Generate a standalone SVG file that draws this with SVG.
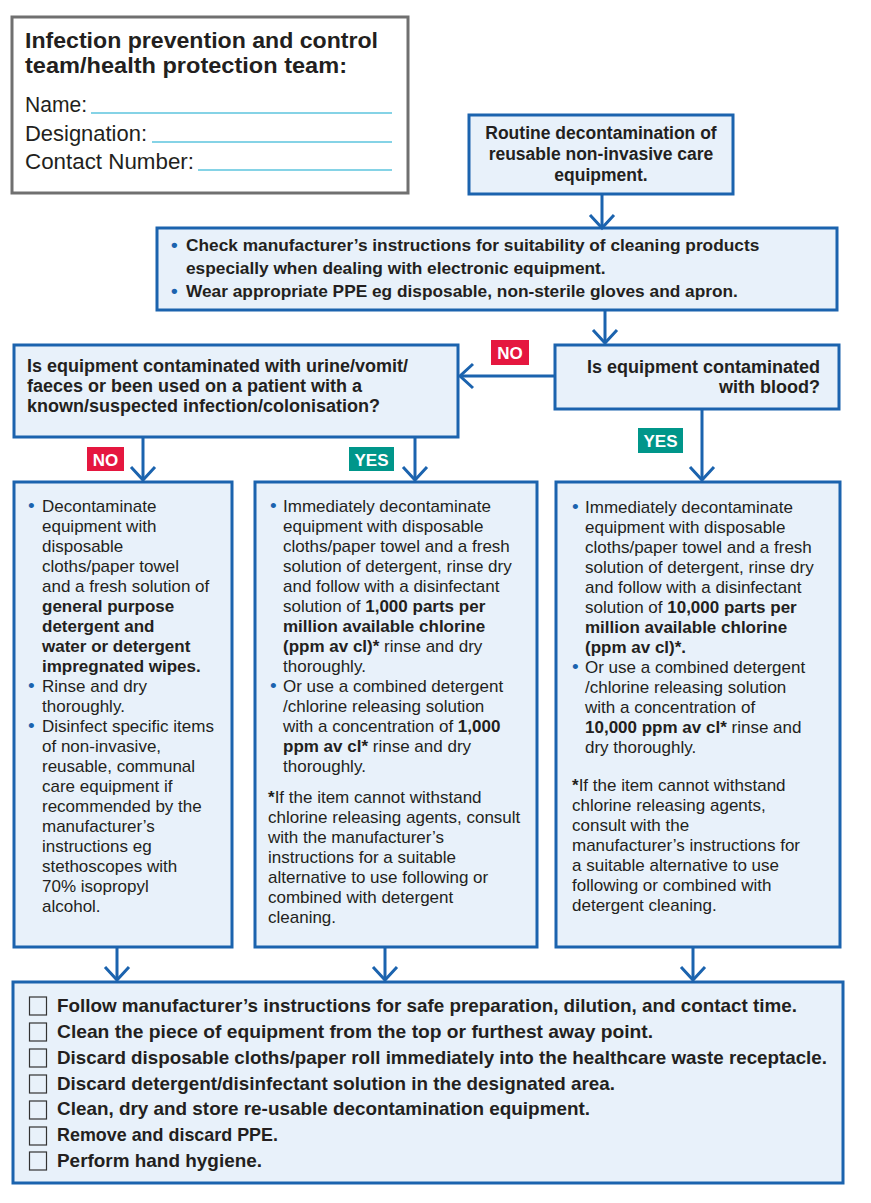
<svg xmlns="http://www.w3.org/2000/svg" width="871" height="1203" viewBox="0 0 871 1203">
<style>
.box{fill:#e8f1fa;stroke:#1b63ae;stroke-width:3}
.t{font-family:"Liberation Sans",Arial,sans-serif;fill:#231f20}
.r{font-size:17px}
.d{font-size:18px;font-weight:bold}
.p{font-size:17.3px;font-weight:bold}
.c{font-size:18.5px;font-weight:bold}
.b{font-weight:bold}
.bl{fill:#1b63ae;font-size:19px}
.con{stroke:#1b63ae;stroke-width:3;fill:none}
.lab{font-family:"Liberation Sans",Arial,sans-serif;font-size:17px;font-weight:bold;fill:#fff;text-anchor:middle}
.chk{fill:none;stroke:#333;stroke-width:1.2}
.ul{stroke:#5cc4de;stroke-width:1.5}
</style>
<defs>
<marker id="ah" markerUnits="userSpaceOnUse" viewBox="-16 -14 20 28" markerWidth="20" markerHeight="28" refX="0" refY="0" orient="auto" overflow="visible">
<path d="M-13,-12 L0,0 L-13,12" fill="none" stroke="#1b63ae" stroke-width="3"/>
</marker>
</defs>
<rect width="871" height="1203" fill="#fff"/>

<g id="contact">
<rect x="12" y="17" width="396" height="176" fill="#fff" stroke="#707070" stroke-width="3"/>
<text class="t b" x="25" y="48" font-size="22.5" textLength="353" lengthAdjust="spacingAndGlyphs">Infection prevention and control</text>
<text class="t b" x="25" y="73" font-size="22.5" textLength="322" lengthAdjust="spacingAndGlyphs">team/health protection team:</text>
<text class="t" x="25" y="112" font-size="21.5" textLength="62" lengthAdjust="spacingAndGlyphs">Name:</text>
<text class="t" x="25" y="141" font-size="21.5" textLength="122" lengthAdjust="spacingAndGlyphs">Designation:</text>
<text class="t" x="25" y="169" font-size="21.5" textLength="169" lengthAdjust="spacingAndGlyphs">Contact Number:</text>
<line class="ul" x1="91" y1="113" x2="392" y2="113"/>
<line class="ul" x1="152" y1="142" x2="392" y2="142"/>
<line class="ul" x1="198" y1="170" x2="392" y2="170"/>
</g>

<g id="routine">
<rect class="box" x="469" y="115" width="264" height="79"/>
<text class="t b" font-size="17.5" text-anchor="middle"><tspan x="601" y="139">Routine decontamination of</tspan><tspan x="601" y="160">reusable non-invasive care</tspan><tspan x="601" y="181">equipment.</tspan></text>
</g>

<g id="ppe">
<rect class="box" x="157" y="228" width="680" height="82"/>
<text class="t p" x="171" y="251"><tspan class="bl">•</tspan></text>
<text class="t p" x="186" y="251">Check manufacturer’s instructions for suitability of cleaning products</text>
<text class="t p" x="186" y="274">especially when dealing with electronic equipment.</text>
<text class="t p" x="171" y="297"><tspan class="bl">•</tspan></text>
<text class="t p" x="186" y="297">Wear appropriate PPE eg disposable, non-sterile gloves and apron.</text>
</g>

<g id="q-other">
<rect class="box" x="14" y="345" width="444" height="92"/>
<text class="t d" x="27" y="372">Is equipment contaminated with urine/vomit/</text>
<text class="t d" x="27" y="392">faeces or been used on a patient with a</text>
<text class="t d" x="27" y="412">known/suspected infection/colonisation?</text>
</g>

<g id="q-blood">
<rect class="box" x="555" y="345" width="284" height="64"/>
<text class="t d" x="820" y="373" text-anchor="end">Is equipment contaminated</text>
<text class="t d" x="820" y="393" text-anchor="end">with blood?</text>
</g>

<g id="col-general">
<rect class="box" x="14" y="482" width="218" height="465"/>
<g class="t r">
<text x="28" y="512"><tspan class="bl">•</tspan></text>
<text x="42" y="512">Decontaminate</text>
<text x="42" y="532">equipment with</text>
<text x="42" y="552">disposable</text>
<text x="42" y="572">cloths/paper towel</text>
<text x="42" y="592">and a fresh solution of</text>
<text x="42" y="612" class="b">general purpose</text>
<text x="42" y="632" class="b">detergent and</text>
<text x="42" y="652" class="b">water or detergent</text>
<text x="42" y="672" class="b">impregnated wipes.</text>
<text x="28" y="692"><tspan class="bl">•</tspan></text>
<text x="42" y="692">Rinse and dry</text>
<text x="42" y="712">thoroughly.</text>
<text x="28" y="732"><tspan class="bl">•</tspan></text>
<text x="42" y="732">Disinfect specific items</text>
<text x="42" y="752">of non-invasive,</text>
<text x="42" y="772">reusable, communal</text>
<text x="42" y="792">care equipment if</text>
<text x="42" y="812">recommended by the</text>
<text x="42" y="832">manufacturer’s</text>
<text x="42" y="852">instructions eg</text>
<text x="42" y="872">stethoscopes with</text>
<text x="42" y="892">70% isopropyl</text>
<text x="42" y="912">alcohol.</text>
</g>
</g>

<g id="col-1000">
<rect class="box" x="255" y="482" width="282" height="465"/>
<g class="t r">
<text x="270" y="512"><tspan class="bl">•</tspan></text>
<text x="283" y="512">Immediately decontaminate</text>
<text x="283" y="532">equipment with disposable</text>
<text x="283" y="552">cloths/paper towel and a fresh</text>
<text x="283" y="572">solution of detergent, rinse dry</text>
<text x="283" y="592">and follow with a disinfectant</text>
<text x="283" y="612">solution of <tspan class="b">1,000 parts per</tspan></text>
<text x="283" y="632" class="b">million available chlorine</text>
<text x="283" y="652"><tspan class="b">(ppm av cl)*</tspan> rinse and dry</text>
<text x="283" y="672">thoroughly.</text>
<text x="270" y="692"><tspan class="bl">•</tspan></text>
<text x="283" y="692">Or use a combined detergent</text>
<text x="283" y="712">/chlorine releasing solution</text>
<text x="283" y="732">with a concentration of <tspan class="b">1,000</tspan></text>
<text x="283" y="752"><tspan class="b">ppm av cl*</tspan> rinse and dry</text>
<text x="283" y="772">thoroughly.</text>
<text x="268" y="803"><tspan class="b">*</tspan>If the item cannot withstand</text>
<text x="268" y="823">chlorine releasing agents, consult</text>
<text x="268" y="843">with the manufacturer’s</text>
<text x="268" y="863">instructions for a suitable</text>
<text x="268" y="883">alternative to use following or</text>
<text x="268" y="903">combined with detergent</text>
<text x="268" y="923">cleaning.</text>
</g>
</g>

<g id="col-10000">
<rect class="box" x="556" y="482" width="284" height="465"/>
<g class="t r">
<text x="572" y="513"><tspan class="bl">•</tspan></text>
<text x="585" y="513">Immediately decontaminate</text>
<text x="585" y="533">equipment with disposable</text>
<text x="585" y="553">cloths/paper towel and a fresh</text>
<text x="585" y="573">solution of detergent, rinse dry</text>
<text x="585" y="593">and follow with a disinfectant</text>
<text x="585" y="613">solution of <tspan class="b">10,000 parts per</tspan></text>
<text x="585" y="633" class="b">million available chlorine</text>
<text x="585" y="653" class="b">(ppm av cl)*.</text>
<text x="572" y="673"><tspan class="bl">•</tspan></text>
<text x="585" y="673">Or use a combined detergent</text>
<text x="585" y="693">/chlorine releasing solution</text>
<text x="585" y="713">with a concentration of</text>
<text x="585" y="733"><tspan class="b">10,000 ppm av cl*</tspan> rinse and</text>
<text x="585" y="753">dry thoroughly.</text>
<text x="572" y="791"><tspan class="b">*</tspan>If the item cannot withstand</text>
<text x="572" y="811">chlorine releasing agents,</text>
<text x="572" y="831">consult with the</text>
<text x="572" y="851">manufacturer’s instructions for</text>
<text x="572" y="871">a suitable alternative to use</text>
<text x="572" y="891">following or combined with</text>
<text x="572" y="911">detergent cleaning.</text>
</g>
</g>

<g id="checklist">
<rect class="box" x="13" y="982" width="830" height="201"/>
<rect class="chk" x="29.5" y="997" width="17" height="18"/>
<rect class="chk" x="29.5" y="1023" width="17" height="18"/>
<rect class="chk" x="29.5" y="1049" width="17" height="18"/>
<rect class="chk" x="29.5" y="1075" width="17" height="18"/>
<rect class="chk" x="29.5" y="1101" width="17" height="18"/>
<rect class="chk" x="29.5" y="1127" width="17" height="18"/>
<rect class="chk" x="29.5" y="1152" width="17" height="18"/>
<text class="t c" x="57" y="1012" textLength="740" lengthAdjust="spacingAndGlyphs">Follow manufacturer’s instructions for safe preparation, dilution, and contact time.</text>
<text class="t c" x="57" y="1038" textLength="596" lengthAdjust="spacingAndGlyphs">Clean the piece of equipment from the top or furthest away point.</text>
<text class="t c" x="57" y="1064" textLength="770" lengthAdjust="spacingAndGlyphs">Discard disposable cloths/paper roll immediately into the healthcare waste receptacle.</text>
<text class="t c" x="57" y="1090" textLength="558" lengthAdjust="spacingAndGlyphs">Discard detergent/disinfectant solution in the designated area.</text>
<text class="t c" x="57" y="1115" textLength="533" lengthAdjust="spacingAndGlyphs">Clean, dry and store re-usable decontamination equipment.</text>
<text class="t c" x="57" y="1141" textLength="221" lengthAdjust="spacingAndGlyphs">Remove and discard PPE.</text>
<text class="t c" x="57" y="1167" textLength="205" lengthAdjust="spacingAndGlyphs">Perform hand hygiene.</text>
</g>

<g id="connectors">
<line class="con" x1="602" y1="194" x2="602" y2="228" marker-end="url(#ah)"/>
<line class="con" x1="605" y1="310" x2="605" y2="343" marker-end="url(#ah)"/>
<line class="con" x1="555" y1="376" x2="460" y2="376" marker-end="url(#ah)"/>
<line class="con" x1="143" y1="437" x2="143" y2="480" marker-end="url(#ah)"/>
<line class="con" x1="415" y1="437" x2="415" y2="480" marker-end="url(#ah)"/>
<line class="con" x1="702" y1="409" x2="702" y2="480" marker-end="url(#ah)"/>
<line class="con" x1="117" y1="947" x2="117" y2="980" marker-end="url(#ah)"/>
<line class="con" x1="385" y1="947" x2="385" y2="980" marker-end="url(#ah)"/>
<line class="con" x1="693" y1="947" x2="693" y2="980" marker-end="url(#ah)"/>
</g>

<g id="label-no-top">
<rect x="491" y="340" width="38" height="25" fill="#e5173f"/>
<text class="lab" x="510" y="359">NO</text>
</g>
<g id="label-no-left">
<rect x="87" y="447" width="37" height="24" fill="#e5173f"/>
<text class="lab" x="105.5" y="465.5">NO</text>
</g>
<g id="label-yes-mid">
<rect x="349" y="447" width="45" height="24" fill="#00968a"/>
<text class="lab" x="371.5" y="465.5">YES</text>
</g>
<g id="label-yes-right">
<rect x="638" y="428" width="45" height="25" fill="#00968a"/>
<text class="lab" x="660.5" y="447">YES</text>
</g>
</svg>
